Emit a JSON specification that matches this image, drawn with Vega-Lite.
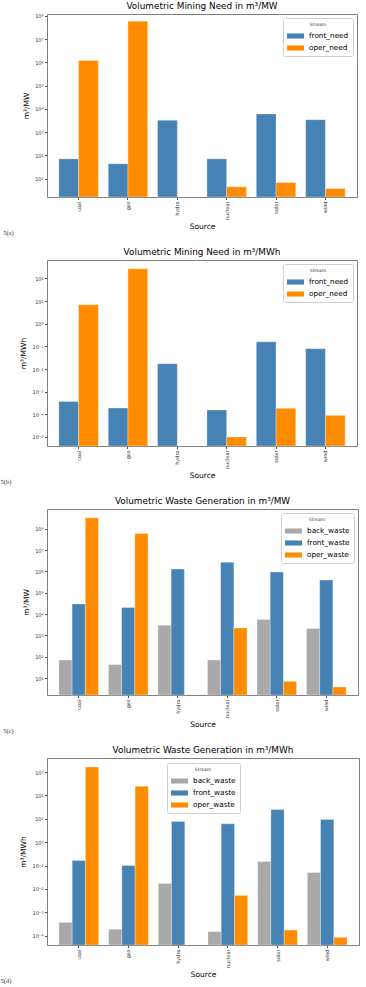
{
  "$schema": "https://vega.github.io/schema/vega-lite/v6.json",
  "background": "white",
  "padding": {"left": 0, "top": 1, "right": 6, "bottom": 2},
  "config": {
    "font": "DejaVu Sans",
    "view": {"stroke": "#808080", "strokeWidth": 1},
    "title": {"font": "DejaVu Sans", "fontSize": 8.9, "fontWeight": "normal", "color": "#000", "offset": 3},
    "axis": {"grid": false, "domain": false, "tickColor": "#555", "tickSize": 2.5, "labelFont": "DejaVu Sans", "labelFontSize": 5, "labelColor": "#333", "labelPadding": 1.5, "titleFont": "DejaVu Sans", "titleFontSize": 7.5, "titleFontWeight": "normal", "titleColor": "#000"},
    "axisY": {"titlePadding": 4},
    "axisX": {"titlePadding": 3},
    "legend": {"fillColor": "white", "strokeColor": "#d0d0d0", "cornerRadius": 2, "padding": 4, "titleFont": "DejaVu Sans", "titleFontSize": 4.5, "titleFontWeight": "normal", "titleColor": "#333", "titleAnchor": "middle", "labelFont": "DejaVu Sans", "labelFontSize": 7.3, "labelColor": "#000", "symbolType": "M-1,-0.3H1V0.3H-1Z", "symbolSize": 289, "symbolStrokeWidth": 0, "rowPadding": 0, "titlePadding": 1, "labelOffset": 5},
    "concat": {"spacing": 10}
  },
  "datasets": {
    "a": [
      {"source": "coal", "stream": "front_need", "value": 70},
      {"source": "coal", "stream": "oper_need", "value": 1200000},
      {"source": "gas", "stream": "front_need", "value": 43},
      {"source": "gas", "stream": "oper_need", "value": 59000000},
      {"source": "hydro", "stream": "front_need", "value": 3200},
      {"source": "nuclear", "stream": "front_need", "value": 70},
      {"source": "nuclear", "stream": "oper_need", "value": 4.4},
      {"source": "solar", "stream": "front_need", "value": 6000},
      {"source": "solar", "stream": "oper_need", "value": 6.7},
      {"source": "wind", "stream": "front_need", "value": 3400},
      {"source": "wind", "stream": "oper_need", "value": 3.7}
    ],
    "b": [
      {"source": "coal", "stream": "front_need", "value": 0.00037},
      {"source": "coal", "stream": "oper_need", "value": 6.9},
      {"source": "gas", "stream": "front_need", "value": 0.00019},
      {"source": "gas", "stream": "oper_need", "value": 265},
      {"source": "hydro", "stream": "front_need", "value": 0.017},
      {"source": "nuclear", "stream": "front_need", "value": 0.000155},
      {"source": "nuclear", "stream": "oper_need", "value": 0.00001},
      {"source": "solar", "stream": "front_need", "value": 0.158},
      {"source": "solar", "stream": "oper_need", "value": 0.000185},
      {"source": "wind", "stream": "front_need", "value": 0.079},
      {"source": "wind", "stream": "oper_need", "value": 0.00009}
    ],
    "c": [
      {"source": "coal", "stream": "back_waste", "value": 70},
      {"source": "coal", "stream": "front_waste", "value": 30000},
      {"source": "coal", "stream": "oper_waste", "value": 330000000},
      {"source": "gas", "stream": "back_waste", "value": 43},
      {"source": "gas", "stream": "front_waste", "value": 20500},
      {"source": "gas", "stream": "oper_waste", "value": 60000000},
      {"source": "hydro", "stream": "back_waste", "value": 3000},
      {"source": "hydro", "stream": "front_waste", "value": 1300000},
      {"source": "nuclear", "stream": "back_waste", "value": 70},
      {"source": "nuclear", "stream": "front_waste", "value": 2700000},
      {"source": "nuclear", "stream": "oper_waste", "value": 2250},
      {"source": "solar", "stream": "back_waste", "value": 5500},
      {"source": "solar", "stream": "front_waste", "value": 930000},
      {"source": "solar", "stream": "oper_waste", "value": 7},
      {"source": "wind", "stream": "back_waste", "value": 2100},
      {"source": "wind", "stream": "front_waste", "value": 400000},
      {"source": "wind", "stream": "oper_waste", "value": 3.8}
    ],
    "d": [
      {"source": "coal", "stream": "back_waste", "value": 0.00037},
      {"source": "coal", "stream": "front_waste", "value": 0.165},
      {"source": "coal", "stream": "oper_waste", "value": 1650},
      {"source": "gas", "stream": "back_waste", "value": 0.00019},
      {"source": "gas", "stream": "front_waste", "value": 0.1},
      {"source": "gas", "stream": "oper_waste", "value": 245},
      {"source": "hydro", "stream": "back_waste", "value": 0.017},
      {"source": "hydro", "stream": "front_waste", "value": 7.7},
      {"source": "nuclear", "stream": "back_waste", "value": 0.00015},
      {"source": "nuclear", "stream": "front_waste", "value": 6.1},
      {"source": "nuclear", "stream": "oper_waste", "value": 0.0053},
      {"source": "solar", "stream": "back_waste", "value": 0.15},
      {"source": "solar", "stream": "front_waste", "value": 25},
      {"source": "solar", "stream": "oper_waste", "value": 0.000175},
      {"source": "wind", "stream": "back_waste", "value": 0.05},
      {"source": "wind", "stream": "front_waste", "value": 9.4},
      {"source": "wind", "stream": "oper_waste", "value": 0.000085}
    ]
  },
  "resolve": {"scale": {"x": "independent", "xOffset": "independent", "y": "independent", "color": "independent"}, "legend": {"color": "independent"}},
  "vconcat": [
    {
      "title": {"text": "5(a)", "orient": "bottom", "anchor": "start", "frame": "bounds", "font": "Liberation Serif", "fontSize": 6.5, "fontWeight": "normal", "color": "#333", "offset": -1, "dx": -19},
      "resolve": {"scale": {"x": "independent", "xOffset": "independent", "y": "independent", "color": "independent"}, "legend": {"color": "independent"}},
      "vconcat": [{
        "title": {"text": "Volumetric Mining Need in m³/MW", "anchor": "middle"},
        "width": 310, "height": 183,
        "data": {"name": "a"},
        "mark": {"type": "bar", "stroke": "white", "strokeWidth": 0.5, "strokeOpacity": 0.6},
        "encoding": {
          "x": {"field": "source", "type": "nominal", "title": "Source", "scale": {"paddingInner": 0.2, "paddingOuter": 0.24}, "axis": {"labelAngle": -90}},
          "xOffset": {"field": "stream", "type": "nominal", "scale": {"domain": ["front_need", "oper_need"]}},
          "y": {"field": "value", "type": "quantitative", "stack": null, "title": "m³/MW", "scale": {"type": "log", "domain": [1.6, 120000000], "nice": false}, "axis": {"values": [10, 100, 1000, 10000, 100000, 1000000, 10000000, 100000000], "labelExpr": "'10' + replace(replace(replace(replace(replace(replace(replace(replace(replace(replace(replace('' + round(log(datum.value)/LN10), '-', '⁻'), '0', '⁰'), '1', '¹'), '2', '²'), '3', '³'), '4', '⁴'), '5', '⁵'), '6', '⁶'), '7', '⁷'), '8', '⁸'), '9', '⁹')"}},
          "y2": {"value": "height"},
          "color": {"field": "stream", "type": "nominal", "title": "Stream", "scale": {"domain": ["front_need", "oper_need"], "range": ["#4682B4", "#FF8C00"]}, "legend": {"orient": "top-right", "offset": 4}}
        }
      }]
    },
    {
      "title": {"text": "5(b)", "orient": "bottom", "anchor": "start", "frame": "bounds", "font": "Liberation Serif", "fontSize": 6.5, "fontWeight": "normal", "color": "#333", "offset": -1, "dx": -19},
      "resolve": {"scale": {"x": "independent", "xOffset": "independent", "y": "independent", "color": "independent"}, "legend": {"color": "independent"}},
      "vconcat": [{
        "title": {"text": "Volumetric Mining Need in m³/MWh", "anchor": "middle"},
        "width": 310, "height": 186,
        "data": {"name": "b"},
        "mark": {"type": "bar", "stroke": "white", "strokeWidth": 0.5, "strokeOpacity": 0.6},
        "encoding": {
          "x": {"field": "source", "type": "nominal", "title": "Source", "scale": {"paddingInner": 0.2, "paddingOuter": 0.24}, "axis": {"labelAngle": -90}},
          "xOffset": {"field": "stream", "type": "nominal", "scale": {"domain": ["front_need", "oper_need"]}},
          "y": {"field": "value", "type": "quantitative", "stack": null, "title": "m³/MWh", "scale": {"type": "log", "domain": [0.000004, 650], "nice": false}, "axis": {"values": [0.00001, 0.0001, 0.001, 0.01, 0.1, 1, 10, 100], "labelExpr": "'10' + replace(replace(replace(replace(replace(replace(replace(replace(replace(replace(replace('' + round(log(datum.value)/LN10), '-', '⁻'), '0', '⁰'), '1', '¹'), '2', '²'), '3', '³'), '4', '⁴'), '5', '⁵'), '6', '⁶'), '7', '⁷'), '8', '⁸'), '9', '⁹')"}},
          "y2": {"value": "height"},
          "color": {"field": "stream", "type": "nominal", "title": "Stream", "scale": {"domain": ["front_need", "oper_need"], "range": ["#4682B4", "#FF8C00"]}, "legend": {"orient": "top-right", "offset": 4}}
        }
      }]
    },
    {
      "title": {"text": "5(c)", "orient": "bottom", "anchor": "start", "frame": "bounds", "font": "Liberation Serif", "fontSize": 6.5, "fontWeight": "normal", "color": "#333", "offset": -1, "dx": -19},
      "resolve": {"scale": {"x": "independent", "xOffset": "independent", "y": "independent", "color": "independent"}, "legend": {"color": "independent"}},
      "vconcat": [{
        "title": {"text": "Volumetric Waste Generation in m³/MW", "anchor": "middle"},
        "width": 311, "height": 186,
        "data": {"name": "c"},
        "mark": {"type": "bar", "stroke": "white", "strokeWidth": 0.5, "strokeOpacity": 0.6},
        "encoding": {
          "x": {"field": "source", "type": "nominal", "title": "Source", "scale": {"paddingInner": 0.2, "paddingOuter": 0.24}, "axis": {"labelAngle": -90}},
          "xOffset": {"field": "stream", "type": "nominal", "scale": {"domain": ["back_waste", "front_waste", "oper_waste"]}},
          "y": {"field": "value", "type": "quantitative", "stack": null, "title": "m³/MW", "scale": {"type": "log", "domain": [1.6, 850000000], "nice": false}, "axis": {"values": [10, 100, 1000, 10000, 100000, 1000000, 10000000, 100000000], "labelExpr": "'10' + replace(replace(replace(replace(replace(replace(replace(replace(replace(replace(replace('' + round(log(datum.value)/LN10), '-', '⁻'), '0', '⁰'), '1', '¹'), '2', '²'), '3', '³'), '4', '⁴'), '5', '⁵'), '6', '⁶'), '7', '⁷'), '8', '⁸'), '9', '⁹')"}},
          "y2": {"value": "height"},
          "color": {"field": "stream", "type": "nominal", "title": "Stream", "scale": {"domain": ["back_waste", "front_waste", "oper_waste"], "range": ["#A9A9A9", "#4682B4", "#FF8C00"]}, "legend": {"orient": "top-right", "offset": 4}}
        }
      }]
    },
    {
      "title": {"text": "5(d)", "orient": "bottom", "anchor": "start", "frame": "bounds", "font": "Liberation Serif", "fontSize": 6.5, "fontWeight": "normal", "color": "#333", "offset": -1, "dx": -19},
      "resolve": {"scale": {"x": "independent", "xOffset": "independent", "y": "independent", "color": "independent"}, "legend": {"color": "independent"}},
      "vconcat": [{
        "title": {"text": "Volumetric Waste Generation in m³/MWh", "anchor": "middle"},
        "width": 312, "height": 187,
        "data": {"name": "d"},
        "mark": {"type": "bar", "stroke": "white", "strokeWidth": 0.5, "strokeOpacity": 0.6},
        "encoding": {
          "x": {"field": "source", "type": "nominal", "title": "Source", "scale": {"paddingInner": 0.2, "paddingOuter": 0.24}, "axis": {"labelAngle": -90}},
          "xOffset": {"field": "stream", "type": "nominal", "scale": {"domain": ["back_waste", "front_waste", "oper_waste"]}},
          "y": {"field": "value", "type": "quantitative", "stack": null, "title": "m³/MWh", "scale": {"type": "log", "domain": [0.00004, 4000], "nice": false}, "axis": {"values": [0.0001, 0.001, 0.01, 0.1, 1, 10, 100, 1000], "labelExpr": "'10' + replace(replace(replace(replace(replace(replace(replace(replace(replace(replace(replace('' + round(log(datum.value)/LN10), '-', '⁻'), '0', '⁰'), '1', '¹'), '2', '²'), '3', '³'), '4', '⁴'), '5', '⁵'), '6', '⁶'), '7', '⁷'), '8', '⁸'), '9', '⁹')"}},
          "y2": {"value": "height"},
          "color": {"field": "stream", "type": "nominal", "title": "Stream", "scale": {"domain": ["back_waste", "front_waste", "oper_waste"], "range": ["#A9A9A9", "#4682B4", "#FF8C00"]}, "legend": {"orient": "none", "legendX": 120, "legendY": 5}}
        }
      }]
    }
  ]
}
